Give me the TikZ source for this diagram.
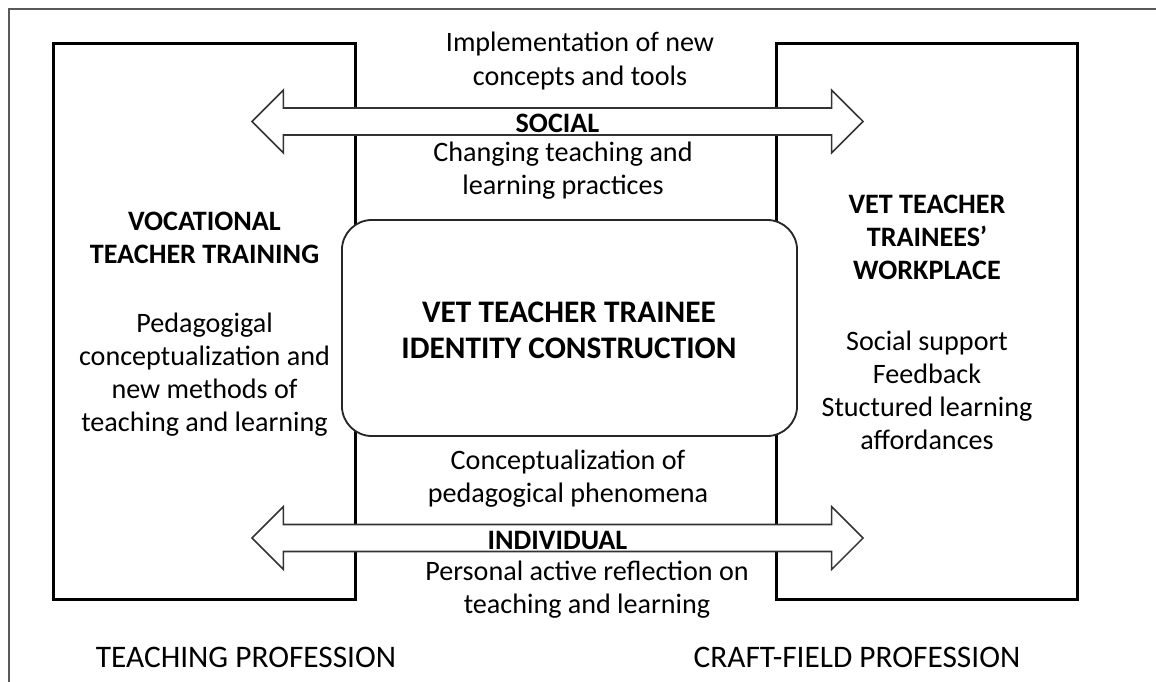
\documentclass[tikz,border=0pt]{standalone}
\usepackage{fontspec}
\setmainfont{Carlito}
\usetikzlibrary{shapes.arrows}

\begin{document}
\begin{tikzpicture}[
    x=0.025cm, y=-0.025cm,
    frame/.style={draw=black!65, line width=1pt},
    field/.style={rectangle, draw, line width=2.1pt, minimum width=7.525cm,
        minimum height=13.875cm},
    core/.style={rectangle, draw=black!85, fill=white, line width=1.3pt,
        rounded corners=0.75cm, minimum width=11.375cm, minimum height=5.4cm},
    twoway/.style={double arrow, draw=black!80, fill=white, line width=1.1pt,
        double arrow head extend=0.4cm, double arrow tip angle=90,
        minimum height=15.275cm, minimum width=1.575cm, inner sep=0pt,
        text height=16pt, text depth=0pt,
        font=\bfseries\fontsize{20}{23.5}\selectfont},
    heading/.style={align=center, font=\bfseries\fontsize{20}{23.5}\selectfont},
    body/.style={align=center, font=\fontsize{20}{23.5}\selectfont},
    title/.style={align=center, font=\bfseries\fontsize{22.3}{25.6}\selectfont},
    profession/.style={font=\fontsize{22.3}{26}\selectfont}
]
\useasboundingbox (0,0) rectangle (1156,682);
\draw[frame] (9,700) |- (1170,9);

% the two settings
\node (Training) [field] at (204.5,321.5) {};
\node (Workplace) [field] at (927,321.5) {};

\node (TrainingHead) [heading] at (204.5,238) {VOCATIONAL\\TEACHER TRAINING};
\node (TrainingText) [body] at (204.5,375) {Pedagogigal\\conceptualization and\\new methods of\\teaching and learning};
\node (WorkplaceHead) [heading] at (927,237) {VET TEACHER\\TRAINEES’\\WORKPLACE};
\node (WorkplaceText) [body] at (927,390) {Social support\\Feedback\\Stuctured learning\\affordances};

% identity in the middle
\node (Identity) [core] at (569.5,328) {};
\node (IdentityTitle) [title] at (569,330) {VET TEACHER TRAINEE\\IDENTITY CONSTRUCTION};

% social and individual exchange
\node (Social) [twoway] at (557.5,121.5) {SOCIAL};
\node (Individual) [twoway] at (557.5,538) {INDIVIDUAL};

\node (SocialUp) [body] at (580,61) {Implementation of new\\concepts and tools};
\node (SocialDown) [body] at (563,171) {Changing teaching and\\learning practices};
\node (IndividualUp) [body] at (568,479) {Conceptualization of\\pedagogical phenomena};
\node (IndividualDown) [body] at (587,590) {Personal active reflection on\\teaching and learning};

\node (Teaching) [profession] at (246,657) {TEACHING PROFESSION};
\node (Craft) [profession] at (857,657) {CRAFT-FIELD PROFESSION};

\end{tikzpicture}
\end{document}
